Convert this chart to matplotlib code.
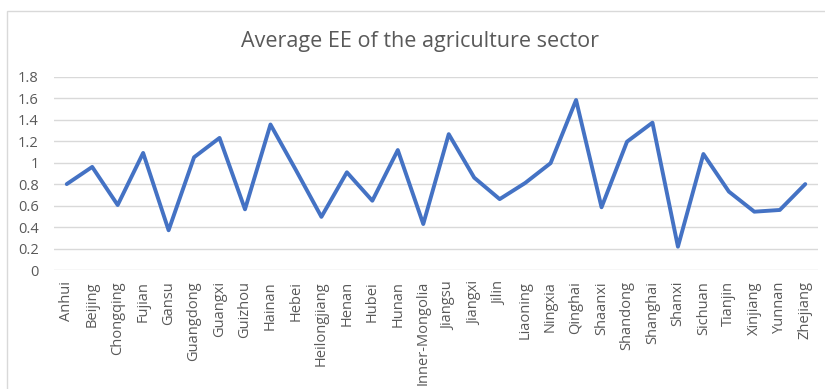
import matplotlib
matplotlib.use("Agg")
import matplotlib.pyplot as plt
from matplotlib.patches import Rectangle

provinces = ["Anhui", "Beijing", "Chongqing", "Fujian", "Gansu", "Guangdong",
             "Guangxi", "Guizhou", "Hainan", "Hebei", "Heilongjiang", "Henan",
             "Hubei", "Hunan", "Inner-Mongolia", "Jiangsu", "Jiangxi", "Jilin",
             "Liaoning", "Ningxia", "Qinghai", "Shaanxi", "Shandong",
             "Shanghai", "Shanxi", "Sichuan", "Tianjin", "Xinjiang", "Yunnan",
             "Zhejiang"]
avg_ee = [0.80, 0.96, 0.605, 1.09, 0.37, 1.05, 1.23, 0.565, 1.355, 0.93,
          0.495, 0.91, 0.645, 1.117, 0.428, 1.265, 0.86, 0.66, 0.81, 0.995,
          1.583, 0.584, 1.195, 1.372, 0.217, 1.08, 0.73, 0.543, 0.559, 0.80]
y_ticks = [0, 0.2, 0.4, 0.6, 0.8, 1.0, 1.2, 1.4, 1.6, 1.8]
y_labels = ["0", "0.2", "0.4", "0.6", "0.8", "1", "1.2", "1.4", "1.6", "1.8"]

TEXT = "#595959"
GRID = "#D9D9D9"
LINE = "#4472C4"
FONT = "Open Sans"

fig = plt.figure(figsize=(8.25, 3.89), dpi=100)

# chart area border (runs off the right and bottom edges)
fig.patches.append(Rectangle((7 / 825, -0.05), 1.0, 1 - 11 / 389 + 0.05,
                             transform=fig.transFigure, fill=False,
                             edgecolor=GRID, linewidth=1.0))

ax = fig.add_axes([54 / 825, 1 - 270 / 389, 764 / 825, (270 - 76.7) / 389])

x = list(range(len(provinces)))
ax.plot(x, avg_ee, color=LINE, linewidth=2.8, solid_joinstyle="round",
        solid_capstyle="round", zorder=3)

ax.set_xlim(-0.5, len(provinces) - 0.5)
ax.set_ylim(0, 1.8)
ax.set_yticks(y_ticks)
ax.set_yticklabels(y_labels, fontsize=10.5, color=TEXT, family=FONT)
ax.set_xticks(x)
ax.set_xticklabels(provinces, rotation=90, fontsize=10.5, color=TEXT,
                   family=FONT, va="top", ha="center")
ax.tick_params(axis="both", length=0)
ax.tick_params(axis="y", pad=11)
ax.tick_params(axis="x", pad=8)

ax.grid(axis="y", color=GRID, linewidth=1.0)
ax.set_axisbelow(True)
for s in ax.spines.values():
    s.set_visible(False)

fig.text(420 / 825, 1 - 42 / 389, "Average EE of the agriculture sector",
         ha="center", va="center", fontsize=15.5, color=TEXT, family=FONT)

fig.savefig("out.png", dpi=100)
